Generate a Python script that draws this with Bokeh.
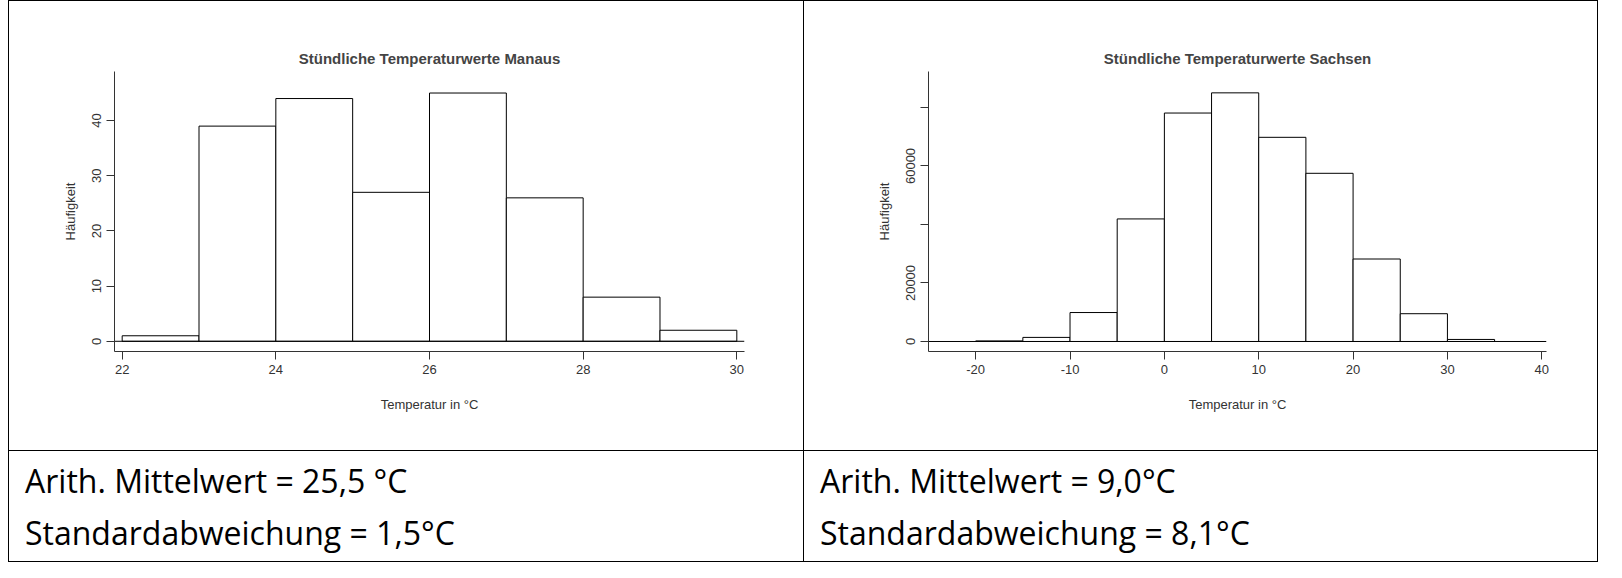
from bokeh.plotting import figure
from bokeh.models import Range1d, FixedTicker, Div
from bokeh.layouts import row, column
from bokeh.embed import file_html
from bokeh.resources import INLINE

# Manaus: 1-degree bins 22..30
manaus_edges = [22, 23, 24, 25, 26, 27, 28, 29, 30]
manaus_counts = [1, 39, 44, 27, 45, 26, 8, 2]
manaus_yticks = [0, 10, 20, 30, 40]
manaus_xticks = [22, 24, 26, 28, 30]

# Sachsen: 5-degree bins -20..35
sachsen_edges = [-20, -15, -10, -5, 0, 5, 10, 15, 20, 25, 30, 35]
sachsen_counts = [200, 1400, 9900, 41900, 78100, 85000, 69800, 57500, 28200, 9500, 700]
sachsen_yticks = [0, 20000, 40000, 60000, 80000]
sachsen_ylabels = {0: "0", 20000: "20000", 40000: "", 60000: "60000", 80000: ""}
sachsen_xticks = [-20, -10, 0, 10, 20, 30, 40]
sachsen_xlabels = {-20: "-20", -10: "-10"}

texts_left = ["Arith. Mittelwert = 25,5 °C", "Standardabweichung = 1,5°C"]
texts_right = ["Arith. Mittelwert = 9,0°C", "Standardabweichung = 8,1°C"]

FONT = "Liberation Sans"
W = 795
H = 450
BORDER = "1px solid black"


def hist(title, edges, counts, xr, yr, xticks, yticks, left, right,
         ylabels=None, xlabels=None):
    p = figure(width=W, height=H, output_backend="svg", toolbar_location=None,
               x_range=Range1d(*xr), y_range=Range1d(*yr),
               min_border_left=left, min_border_right=right,
               min_border_top=70, min_border_bottom=H - 350)
    p.title.text = title
    p.title.align = "center"
    p.title.text_font = FONT
    p.title.text_font_size = "15px"
    p.title.text_font_style = "bold"
    p.outline_line_color = None
    p.grid.visible = False
    p.quad(left=edges[:-1], right=edges[1:], bottom=0, top=counts,
           fill_color="white", line_color="black", line_width=1)
    p.line(x=[xr[0], xr[1]], y=[0, 0], line_color="black", line_width=1)
    for ax in (p.xaxis[0], p.yaxis[0]):
        ax.axis_line_color = "#333333"
        ax.major_tick_line_color = "#333333"
        ax.minor_tick_line_color = None
        ax.major_tick_in = 0
        ax.major_tick_out = 8
        ax.major_label_text_font = FONT
        ax.major_label_text_font_size = "13px"
        ax.major_label_text_color = "#333333"
        ax.axis_label_text_font = FONT
        ax.axis_label_text_font_size = "13px"
        ax.axis_label_text_font_style = "normal"
        ax.axis_label_text_color = "#333333"
    p.xaxis.ticker = FixedTicker(ticks=xticks)
    p.yaxis.ticker = FixedTicker(ticks=yticks)
    p.yaxis.major_label_orientation = "vertical"
    if ylabels:
        p.yaxis.major_label_overrides = ylabels
    if xlabels:
        p.xaxis.major_label_overrides = xlabels
    p.xaxis.axis_label = "Temperatur in °C"
    p.yaxis.axis_label = "Häufigkeit"
    p.xaxis.axis_label_standoff = 20
    p.yaxis.axis_label_standoff = 12
    p.margin = 0
    p.styles = {"border-top": BORDER, "border-left": BORDER, "box-sizing": "border-box"}
    return p


p1 = hist("Stündliche Temperaturwerte Manaus", manaus_edges, manaus_counts,
          (21.9, 30.1), (-1.85, 48.9), manaus_xticks, manaus_yticks, 105, 60)
p2 = hist("Stündliche Temperaturwerte Sachsen", sachsen_edges, sachsen_counts,
          (-25, 40.5), (-3420, 92300), sachsen_xticks, sachsen_yticks, 124, 53,
          sachsen_ylabels, sachsen_xlabels)
p2.styles = {"border-top": BORDER, "border-left": BORDER,
             "border-right": BORDER, "box-sizing": "border-box"}


def textcell(lines, last=False):
    style = {"font-family": "Open Sans", "font-size": "32px", "line-height": "52px",
             "padding": "4px 0 0 16px", "box-sizing": "border-box",
             "border-top": BORDER, "border-left": BORDER,
             "border-bottom": BORDER, "color": "black"}
    if last:
        style["border-right"] = BORDER
    return Div(text="<br>".join(lines), width=W, height=112, margin=0, styles=style)


layout = column(row(p1, p2, spacing=0, margin=0),
                row(textcell(texts_left), textcell(texts_right, True), spacing=0, margin=0),
                spacing=0)
layout.styles = {"margin-left": "8px"}

open("out.html", "w").write(file_html(layout, INLINE))
